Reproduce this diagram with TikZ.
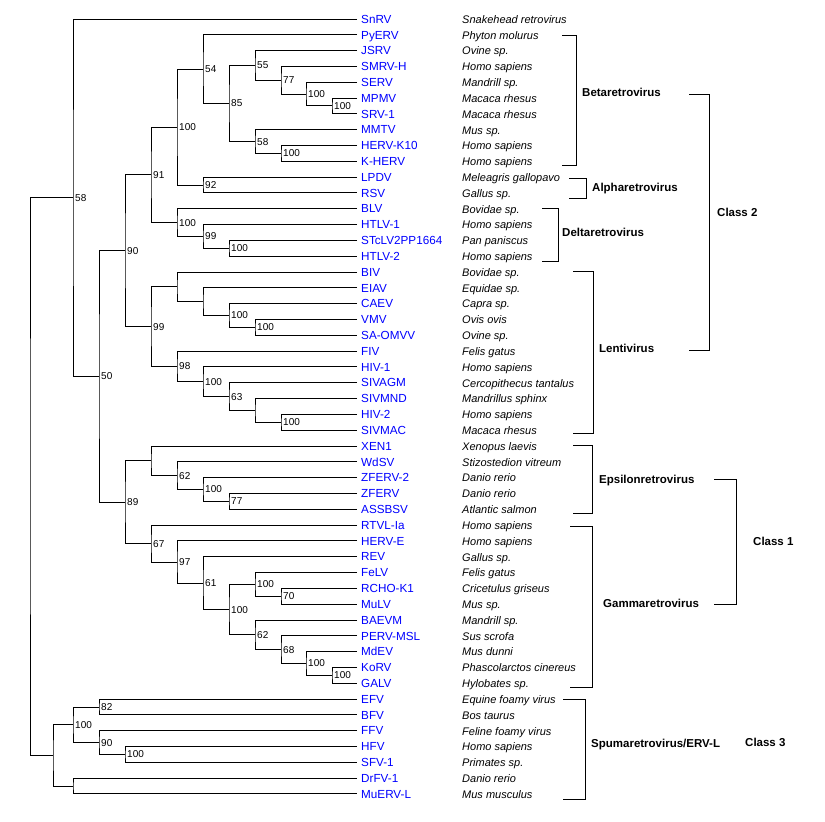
\documentclass[tikz,border=0pt]{standalone}
\usepackage{fontspec}
\setmainfont{Liberation Sans}
\usetikzlibrary{calc}
\definecolor{leafblue}{RGB}{0,0,255}
\tikzset{
  br/.style={line width=1pt},
  leaf/.style={anchor=base west, inner sep=0pt, text=leafblue, font=\fontsize{11.7}{12}\selectfont, xshift=4pt, yshift=-4.2pt},
  spc/.style={anchor=base west, inner sep=0pt, font=\fontsize{11}{12}\selectfont\itshape, yshift=-4.3pt},
  bs/.style={anchor=west, inner sep=0pt, font=\fontsize{10}{11}\selectfont, xshift=2pt},
  grp/.style={anchor=base west, inner sep=0pt, font=\fontsize{11.5}{12}\selectfont\bfseries, yshift=-4.1pt}
}
\newcommand\phynode[5]{%
  \path let \p1=($(#3)!0.5!(#4)$) in coordinate (#1) at (#2pt,\y1);%
  \draw[br] (#3) -| (#1) |- (#4);%
  \if\relax\detokenize{#5}\relax\else\node[bs] at (#1) {#5};\fi
}
\begin{document}
\begin{tikzpicture}[x=1pt,y=-1pt]
\useasboundingbox (0,0) rectangle (825,822);
\foreach \nm/\sp [count=\i] in {
SnRV/Snakehead retrovirus, PyERV/Phyton molurus, JSRV/Ovine sp., SMRV-H/Homo sapiens,
SERV/Mandrill sp., MPMV/Macaca rhesus, SRV-1/Macaca rhesus, MMTV/Mus sp.,
HERV-K10/Homo sapiens, K-HERV/Homo sapiens, LPDV/Meleagris gallopavo, RSV/Gallus sp.,
BLV/Bovidae sp., HTLV-1/Homo sapiens, STcLV2PP1664/Pan paniscus, HTLV-2/Homo sapiens,
BIV/Bovidae sp., EIAV/Equidae sp., CAEV/Capra sp., VMV/Ovis ovis, SA-OMVV/Ovine sp.,
FIV/Felis gatus, HIV-1/Homo sapiens, SIVAGM/Cercopithecus tantalus, SIVMND/Mandrillus sphinx,
HIV-2/Homo sapiens, SIVMAC/Macaca rhesus, XEN1/Xenopus laevis, WdSV/Stizostedion vitreum,
ZFERV-2/Danio rerio, ZFERV/Danio rerio, ASSBSV/Atlantic salmon, RTVL-Ia/Homo sapiens,
HERV-E/Homo sapiens, REV/Gallus sp., FeLV/Felis gatus, RCHO-K1/Cricetulus griseus,
MuLV/Mus sp., BAEVM/Mandrill sp., PERV-MSL/Sus scrofa, MdEV/Mus dunni,
KoRV/Phascolarctos cinereus, GALV/Hylobates sp., EFV/Equine foamy virus, BFV/Bos taurus,
FFV/Feline foamy virus, HFV/Homo sapiens, SFV-1/Primates sp., DrFV-1/Danio rerio,
MuERV-L/Mus musculus} {
  \coordinate (l\i) at (357,{19+(\i-1)*15.816});
  \node[leaf] (t\i) at (l\i) {\nm};
  \node[spc] (s\i) at ([xshift=105pt]l\i) {\sp};
}
% Betaretrovirus clade
\phynode{c100}{332}{l6}{l7}{100}
\phynode{b100}{306}{l5}{c100}{100}
\phynode{n77}{281}{l4}{b100}{77}
\phynode{n55}{255}{l3}{n77}{55}
\phynode{k100}{281}{l9}{l10}{100}
\phynode{n58b}{255}{l8}{k100}{58}
\phynode{n85}{229}{n55}{n58b}{85}
\phynode{n54}{203}{l2}{n85}{54}
\phynode{n92}{203}{l11}{l12}{92}
\phynode{a100}{177}{n54}{n92}{100}
\phynode{f100}{229}{l15}{l16}{100}
\phynode{n99d}{203}{l14}{f100}{99}
\phynode{d100}{177}{l13}{n99d}{100}
\phynode{n91}{151}{a100}{d100}{91}
% Lentivirus
\phynode{h100}{255}{l20}{l21}{100}
\phynode{g100}{229}{l19}{h100}{100}
\phynode{nB}{203}{l18}{g100}{}
\phynode{nA}{177}{l17}{nB}{}
\phynode{j100}{281}{l26}{l27}{100}
\phynode{nC}{255}{l25}{j100}{}
\phynode{n63}{229}{l24}{nC}{63}
\phynode{i100}{203}{l23}{n63}{100}
\phynode{n98}{177}{l22}{i100}{98}
\phynode{n99l}{151}{nA}{n98}{99}
\phynode{n90}{125}{n91}{n99l}{90}
% Epsilon
\phynode{n77e}{229}{l31}{l32}{77}
\phynode{k100e}{203}{l30}{n77e}{100}
\phynode{n62e}{177}{l29}{k100e}{62}
\phynode{nE}{151}{l28}{n62e}{}
% Gamma
\phynode{n70}{281}{l37}{l38}{70}
\phynode{m100}{255}{l36}{n70}{100}
\phynode{o100}{332}{l42}{l43}{100}
\phynode{q100n}{306}{l41}{o100}{100}
\phynode{n68}{281}{l40}{q100n}{68}
\phynode{n62g}{255}{l39}{n68}{62}
\phynode{gm100}{229}{m100}{n62g}{100}
\phynode{n61}{203}{l35}{gm100}{61}
\phynode{n97}{177}{l34}{n61}{97}
\phynode{n67}{151}{l33}{n97}{67}
\phynode{n89}{125}{nE}{n67}{89}
\phynode{n50}{99}{n90}{n89}{50}
\phynode{n58}{73}{l1}{n50}{58}
% Spuma / ERV-L
\phynode{s100}{125}{l47}{l48}{100}
\phynode{n90s}{99}{l46}{s100}{90}
\phynode{n82}{99}{l44}{l45}{82}
\phynode{p100}{73}{n82}{n90s}{100}
\phynode{nD}{73}{l49}{l50}{}
\phynode{nsp}{53}{p100}{nD}{}
\phynode{root}{30}{n58}{nsp}{}
% group brackets
\draw[br] (562,35) -- (576,35) -- (576,165) -- (562,165);
\node[grp] (gbeta) at (582,92.7) {Betaretrovirus};
\draw[br] (569,178.3) -- (586,178.3) -- (586,198) -- (569,198);
\node[grp] (galpha) at (592,187.7) {Alpharetrovirus};
\draw[br] (542,208.7) -- (558,208.7) -- (558,261) -- (542,261);
\node[grp] (gdelta) at (562,232) {Deltaretrovirus};
\draw[br] (573,271.7) -- (593,271.7) -- (593,433) -- (573,433);
\node[grp] (glenti) at (599,348) {Lentivirus};
\draw[br] (573,445) -- (592,445) -- (592,513) -- (573,513);
\node[grp] (geps) at (599,479) {Epsilonretrovirus};
\draw[br] (570,526) -- (592,526) -- (592,687) -- (570,687);
\node[grp] (ggam) at (603,603) {Gammaretrovirus};
\draw[br] (563,699) -- (585,699) -- (585,799) -- (563,799);
\node[grp] (gspu) at (591,743) {Spumaretrovirus/ERV-L};
% class brackets
\draw[br] (689,94.7) -- (709,94.7) -- (709,350) -- (689,350);
\node[grp] (cl2) at (717,212) {Class 2};
\draw[br] (714,479) -- (736,479) -- (736,604) -- (714,604);
\node[grp] (cl1) at (753,541) {Class 1};
\node[grp] (cl3) at (745,742) {Class 3};
\end{tikzpicture}
\end{document}
